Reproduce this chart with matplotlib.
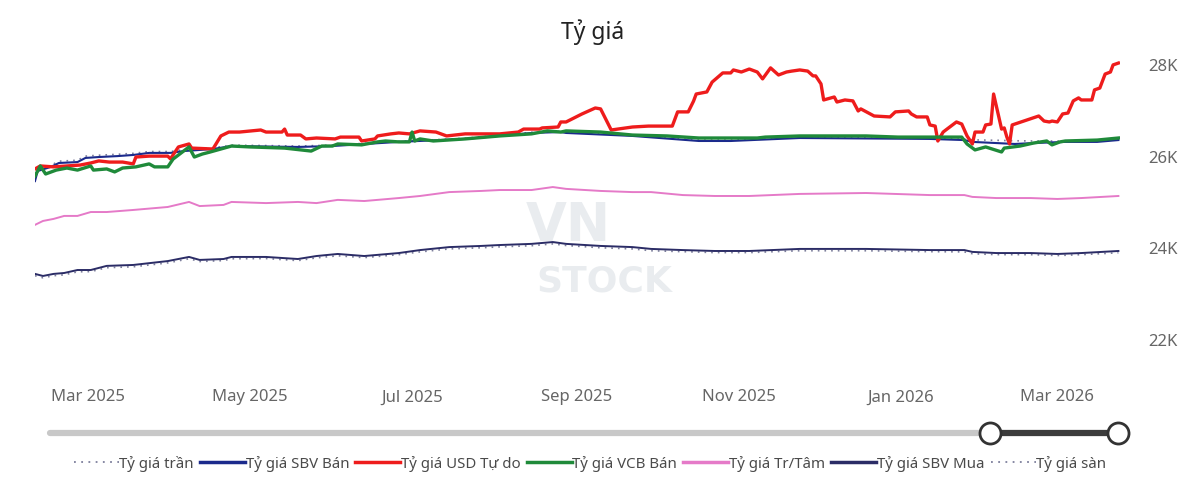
import numpy as np
import pandas as pd
import matplotlib
matplotlib.use("Agg")
import matplotlib.pyplot as plt
import matplotlib.dates as mdates
from matplotlib.ticker import FuncFormatter

plt.rcParams['font.family'] = ['Noto Sans', 'DejaVu Sans']

# ---- data ----
usd_free_dates = ["2025-02-09", "2025-02-11", "2025-02-16", "2025-02-21", "2025-02-26", "2025-03-02",
                  "2025-03-05", "2025-03-09", "2025-03-14", "2025-03-18", "2025-03-19", "2025-03-24",
                  "2025-03-31", "2025-04-01", "2025-04-04", "2025-04-08", "2025-04-09", "2025-04-17",
                  "2025-04-20", "2025-04-23", "2025-04-27", "2025-05-05", "2025-05-07", "2025-05-13",
                  "2025-05-14", "2025-05-15", "2025-05-20", "2025-05-22", "2025-05-26", "2025-06-02",
                  "2025-06-04", "2025-06-11", "2025-06-12", "2025-06-17", "2025-06-18", "2025-06-23",
                  "2025-06-26", "2025-06-30", "2025-07-04", "2025-07-10", "2025-07-14", "2025-07-21",
                  "2025-08-03", "2025-08-10", "2025-08-12", "2025-08-18", "2025-08-19", "2025-08-25",
                  "2025-08-26", "2025-08-28", "2025-09-03", "2025-09-08", "2025-09-10", "2025-09-14",
                  "2025-09-22", "2025-09-28", "2025-10-07", "2025-10-09", "2025-10-13", "2025-10-15",
                  "2025-10-16", "2025-10-20", "2025-10-22", "2025-10-26", "2025-10-29", "2025-10-30",
                  "2025-11-02", "2025-11-05", "2025-11-08", "2025-11-10", "2025-11-13", "2025-11-16",
                  "2025-11-19", "2025-11-21", "2025-11-24", "2025-11-27", "2025-11-29", "2025-11-30",
                  "2025-12-02", "2025-12-03", "2025-12-07", "2025-12-08", "2025-12-11", "2025-12-14",
                  "2025-12-16", "2025-12-17", "2025-12-22", "2025-12-28", "2025-12-30", "2026-01-04",
                  "2026-01-05", "2026-01-07", "2026-01-11", "2026-01-12", "2026-01-14", "2026-01-15",
                  "2026-01-17", "2026-01-18", "2026-01-22", "2026-01-24", "2026-01-26", "2026-01-28",
                  "2026-01-29", "2026-02-01", "2026-02-02", "2026-02-04", "2026-02-05", "2026-02-08",
                  "2026-02-09", "2026-02-10", "2026-02-11", "2026-02-12", "2026-02-22", "2026-02-24",
                  "2026-02-26", "2026-02-27", "2026-03-01", "2026-03-03", "2026-03-05", "2026-03-07",
                  "2026-03-09", "2026-03-10", "2026-03-14", "2026-03-15", "2026-03-17", "2026-03-19",
                  "2026-03-21", "2026-03-22", "2026-03-24"]
usd_free = [25710, 25775, 25755, 25775, 25795, 25840,
            25885, 25860, 25860, 25820, 25970, 25990,
            25990, 25930, 26190, 26255, 26165, 26145,
            26430, 26515, 26515, 26560, 26515, 26515,
            26580, 26450, 26450, 26365, 26385, 26365,
            26405, 26405, 26320, 26365, 26430, 26475,
            26495, 26475, 26540, 26515, 26430, 26475,
            26475, 26515, 26580, 26580, 26605, 26625,
            26735, 26735, 26910, 27040, 27020, 26560,
            26625, 26645, 26645, 26955, 26955, 27190,
            27345, 27390, 27605, 27805, 27805, 27870,
            27825, 27890, 27825, 27675, 27915, 27760,
            27825, 27845, 27870, 27845, 27740, 27740,
            27565, 27215, 27280, 27170, 27215, 27195,
            26975, 27020, 26865, 26845, 26955, 26975,
            26910, 26845, 26845, 26670, 26645, 26320,
            26515, 26560, 26735, 26690, 26430, 26255,
            26515, 26515, 26670, 26690, 27345, 26580,
            26605, 26405, 26255, 26670, 26865, 26755,
            26735, 26755, 26735, 26910, 26930, 27195,
            27260, 27215, 27215, 27435, 27475, 27780,
            27825, 27980, 28020]

vcb_dates = ["2025-02-09", "2025-02-11", "2025-02-13", "2025-02-17", "2025-02-21", "2025-02-25",
             "2025-03-02", "2025-03-03", "2025-03-08", "2025-03-11", "2025-03-14", "2025-03-19",
             "2025-03-24", "2025-03-26", "2025-03-31", "2025-04-02", "2025-04-08", "2025-04-10",
             "2025-04-13", "2025-04-16", "2025-04-24", "2025-05-01", "2025-05-14", "2025-05-24",
             "2025-05-28", "2025-06-01", "2025-06-03", "2025-06-12", "2025-06-18", "2025-06-21",
             "2025-06-26", "2025-06-30", "2025-07-01", "2025-07-02", "2025-07-04", "2025-07-09",
             "2025-07-21", "2025-08-03", "2025-08-15", "2025-08-21", "2025-08-26", "2025-08-28",
             "2025-09-10", "2025-09-22", "2025-10-05", "2025-10-17", "2025-10-29", "2025-11-08",
             "2025-11-11", "2025-11-24", "2025-12-06", "2025-12-19", "2025-12-31", "2026-01-12",
             "2026-01-24", "2026-01-26", "2026-01-29", "2026-02-02", "2026-02-08", "2026-02-09",
             "2026-02-15", "2026-02-20", "2026-02-25", "2026-02-27", "2026-03-02", "2026-03-04",
             "2026-03-16", "2026-03-24"]
vcb_sell = [25555, 25775, 25600, 25685, 25730, 25685,
            25775, 25685, 25710, 25645, 25730, 25755,
            25820, 25755, 25755, 25925, 26190, 25970,
            26035, 26080, 26210, 26190, 26165, 26100,
            26210, 26210, 26255, 26235, 26300, 26320,
            26300, 26300, 26515, 26320, 26365, 26320,
            26365, 26430, 26475, 26540, 26515, 26540,
            26515, 26450, 26430, 26385, 26385, 26385,
            26405, 26430, 26430, 26430, 26405, 26405,
            26405, 26255, 26125, 26190, 26080, 26165,
            26210, 26275, 26320, 26235, 26300, 26320,
            26340, 26385]

sbv_dates = ["2025-02-09", "2025-02-10", "2025-02-15", "2025-02-18", "2025-02-25", "2025-02-28",
             "2025-03-05", "2025-03-12", "2025-03-18", "2025-03-24", "2025-04-01", "2025-04-06",
             "2025-04-17", "2025-04-24", "2025-05-19", "2025-06-01", "2025-06-26", "2025-07-21",
             "2025-08-15", "2025-08-26", "2025-08-28", "2025-09-22", "2025-10-17", "2025-10-29",
             "2025-11-24", "2026-01-12", "2026-01-25", "2026-01-28", "2026-02-06", "2026-02-13",
             "2026-02-20", "2026-03-04", "2026-03-16", "2026-03-24"]
sbv_sell = [25445, 25665, 25755, 25840, 25860, 25950,
            25970, 25990, 26015, 26060, 26060, 26100,
            26145, 26210, 26190, 26210, 26300, 26365,
            26495, 26515, 26495, 26430, 26320, 26320,
            26385, 26365, 26340, 26300, 26275, 26255,
            26275, 26300, 26300, 26340]
ceiling = [25500, 25700, 25790, 25880, 25900, 25990,
           26010, 26030, 26050, 26090, 26090, 26130,
           26170, 26230, 26210, 26230, 26310, 26380,
           26510, 26530, 26510, 26440, 26340, 26340,
           26400, 26380, 26360, 26345, 26335, 26325,
           26320, 26320, 26325, 26360]

central_dates = ["2025-02-09", "2025-02-12", "2025-02-16", "2025-02-20", "2025-02-25", "2025-03-02",
                 "2025-03-08", "2025-03-18", "2025-03-31", "2025-04-08", "2025-04-12", "2025-04-21",
                 "2025-04-24", "2025-05-07", "2025-05-19", "2025-05-26", "2025-06-03", "2025-06-13",
                 "2025-06-26", "2025-07-04", "2025-07-15", "2025-07-27", "2025-08-03", "2025-08-15",
                 "2025-08-23", "2025-08-28", "2025-09-10", "2025-09-22", "2025-09-29", "2025-10-11",
                 "2025-10-23", "2025-11-05", "2025-11-24", "2025-12-19", "2026-01-12", "2026-01-25",
                 "2026-01-28", "2026-02-06", "2026-02-19", "2026-03-01", "2026-03-10", "2026-03-24"]
central = [24490, 24575, 24620, 24685, 24685, 24770,
           24770, 24815, 24880, 24990, 24900, 24925,
           24990, 24965, 24990, 24965, 25035, 25010,
           25075, 25120, 25205, 25230, 25250, 25250,
           25315, 25275, 25230, 25205, 25205, 25140,
           25120, 25120, 25165, 25185, 25140, 25140,
           25100, 25075, 25075, 25055, 25075, 25120]

sbv_buy = [23420, 23375, 23420, 23440, 23505, 23505,
           23595, 23615, 23700, 23790, 23725, 23745,
           23790, 23790, 23745, 23810, 23855, 23810,
           23875, 23940, 24005, 24030, 24050, 24075,
           24115, 24075, 24030, 24005, 23965, 23940,
           23920, 23920, 23965, 23965, 23940, 23940,
           23900, 23875, 23875, 23855, 23875, 23920]
floor_rate = [23380, 23335, 23380, 23400, 23465, 23470,
              23555, 23575, 23660, 23750, 23690, 23710,
              23750, 23755, 23710, 23770, 23815, 23775,
              23840, 23900, 23965, 23990, 24010, 24035,
              24075, 24040, 23990, 23965, 23925, 23905,
              23885, 23885, 23925, 23925, 23905, 23900,
              23860, 23840, 23840, 23820, 23840, 23880]

x_start = pd.Timestamp("2025-02-09")
x_end = x_start + pd.Timedelta(days=408.6)

# ---- figure ----
fig = plt.figure(figsize=(12, 4.89), dpi=100)
ax = fig.add_axes([35 / 1200, 1 - 370 / 489, 1085 / 1200, 320 / 489])

# faint watermark behind the lines
fig.text(568 / 1200, 1 - 226 / 489, "VN", fontsize=38, fontweight='bold', color='#e9ecef',
         family='DejaVu Sans', ha='center', va='center', zorder=0)
fig.text(604 / 1200, 1 - 281 / 489, "STOCK", fontsize=26, fontweight='bold', color='#e9ecef',
         family='DejaVu Sans', ha='center', va='center', zorder=0)

cd = pd.to_datetime(central_dates)
sd = pd.to_datetime(sbv_dates)
ax.plot(sd, ceiling, color='#7d7f9c', lw=1.2, ls=(0, (1, 3)), label='Tỷ giá trần', zorder=2)
ax.plot(sd, sbv_sell, color='#1b2a8c', lw=1.5, label='Tỷ giá SBV Bán', zorder=3)
ax.plot(pd.to_datetime(usd_free_dates), usd_free, color='#ee1c1c', lw=2.4,
        label='Tỷ giá USD Tự do', zorder=4)
ax.plot(pd.to_datetime(vcb_dates), vcb_sell, color='#1f8a3a', lw=2.4, label='Tỷ giá VCB Bán', zorder=5)
ax.plot(cd, central, color='#e57ac8', lw=1.4, label='Tỷ giá Tr/Tâm', zorder=3)
ax.plot(cd, sbv_buy, color='#2b2c66', lw=1.4, label='Tỷ giá SBV Mua', zorder=3)
ax.plot(cd, floor_rate, color='#7d7f9c', lw=1.2, ls=(0, (1, 3)), label='Tỷ giá sàn', zorder=2)

ax.set_xlim(x_start, x_end)
ax.set_ylim(21345, 28327)
ax.set_yticks([22000, 24000, 26000, 28000])
ax.yaxis.set_major_formatter(FuncFormatter(lambda v, p: f"{int(v / 1000)}K"))
ax.yaxis.tick_right()
ax.xaxis.set_major_locator(mdates.MonthLocator(bymonth=[1, 3, 5, 7, 9, 11]))
ax.xaxis.set_major_formatter(mdates.DateFormatter("%b %Y"))
ax.tick_params(axis='y', length=0, pad=20, labelsize=12, labelcolor='#666666')
ax.tick_params(axis='x', length=0, pad=14, labelsize=12, labelcolor='#666666')
for s in ax.spines.values():
    s.set_visible(False)
ax.patch.set_alpha(0)

fig.text(593 / 1200, 1 - 32 / 489, "Tỷ giá", fontsize=16.5, color='#222222', ha='center', va='center')

# range slider
ov = fig.add_axes([0, 0, 1, 1], zorder=-1)
ov.set_xlim(0, 1200)
ov.set_ylim(489, 0)
ov.axis('off')
ov.plot([50, 990], [434, 434], color='#c8c8c8', lw=4.5, solid_capstyle='round')
ov.plot([990, 1118], [434, 434], color='#3c3c3c', lw=4.5)
ov.scatter([990, 1118], [434, 434], s=230, facecolor='white', edgecolor='#333333', linewidths=2.0, zorder=3)

handles, labels = ax.get_legend_handles_labels()
leg = fig.legend(handles, labels, loc='center', bbox_to_anchor=(590 / 1200, 1 - 464 / 489), ncol=7,
                 frameon=False, fontsize=10.8, handlelength=3.0, handletextpad=0.05, columnspacing=0.4,
                 labelcolor='#4a4a4a')
for line in leg.get_lines():
    line.set_linewidth(2.5 if line.get_linestyle() == '-' else 1.3)

fig.savefig("out.png", dpi=100)
